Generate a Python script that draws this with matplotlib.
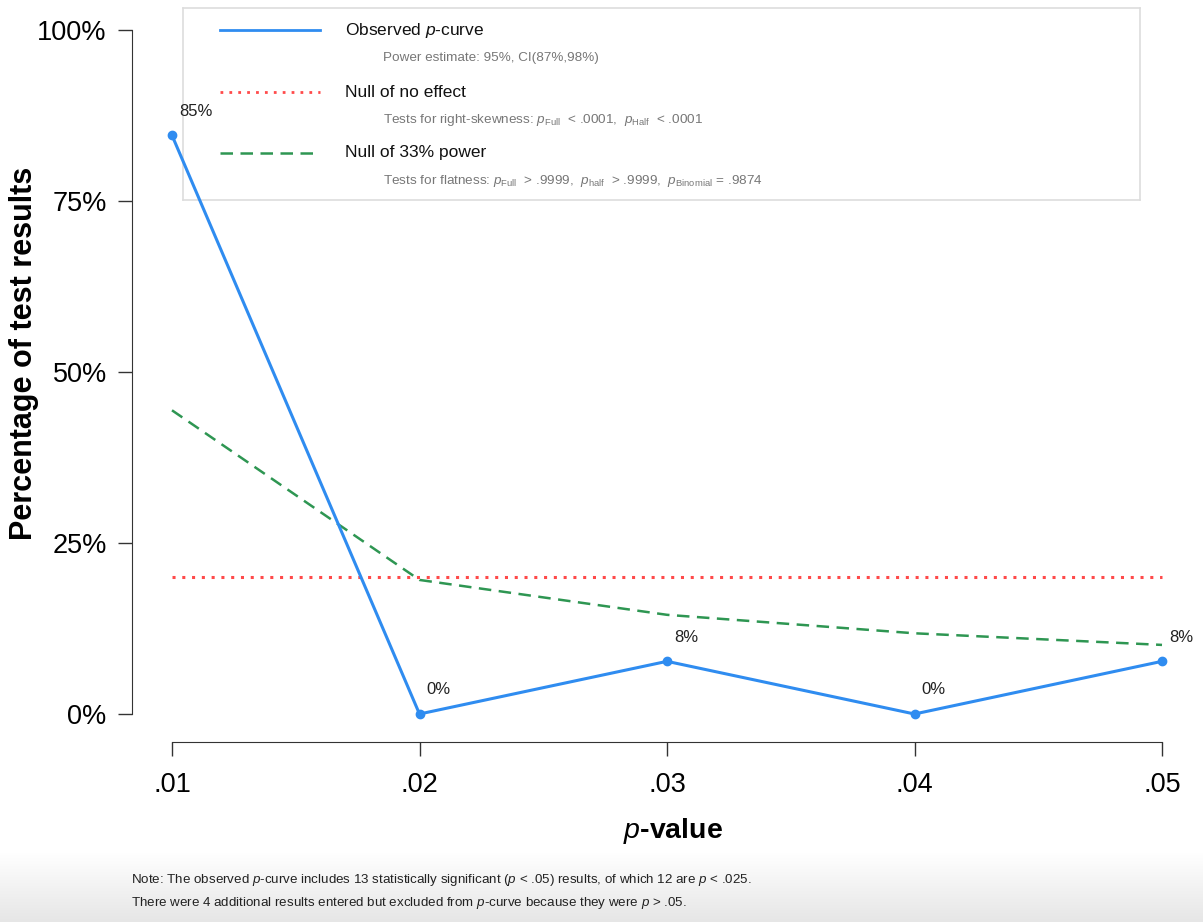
import numpy as np
import matplotlib

matplotlib.use("Agg")
import matplotlib.pyplot as plt
from matplotlib import font_manager
from matplotlib.lines import Line2D

# data
p_values = [0.01, 0.02, 0.03, 0.04, 0.05]
observed = [84.6, 0.0, 7.7, 0.0, 7.7]
observed_labels = ["85%", "0%", "8%", "0%", "8%"]
null_no_effect = [20.0, 20.0, 20.0, 20.0, 20.0]
null_33_power = [44.4, 19.6, 14.5, 11.8, 10.1]
x_tick_labels = [".01", ".02", ".03", ".04", ".05"]
y_ticks = [0, 25, 50, 75, 100]
y_tick_labels = ["0%", "25%", "50%", "75%", "100%"]

BLUE = "#2f8cf0"
RED = "#ff4a4a"
GREEN = "#2e9652"
GREY_TXT = "#777777"

names = {f.name for f in font_manager.fontManager.ttflist}
NARROW = "Liberation Sans Narrow" if "Liberation Sans Narrow" in names else "Liberation Sans"
plt.rcParams["font.family"] = [NARROW, "DejaVu Sans"]
plt.rcParams["mathtext.fontset"] = "custom"
plt.rcParams["mathtext.it"] = NARROW + ":italic"
plt.rcParams["mathtext.rm"] = NARROW
plt.rcParams["mathtext.bf"] = "Liberation Sans:bold"

W, H = 1203, 922
fig = plt.figure(figsize=(W / 100, H / 100), dpi=100)

# grey fade at the bottom of the screenshot
bg = fig.add_axes([0, 0, 1, 0.075], zorder=-10)
grad = np.linspace(0, 1, 100).reshape(-1, 1)
bg.imshow(grad, aspect="auto", cmap=matplotlib.colors.LinearSegmentedColormap.from_list(
    "fade", ["#e6e6e6", "#ffffff"]), extent=[0, 1, 0, 1], origin="lower")
bg.axis("off")

# legend box drawn as its own axes, transparent so the curve shows through
lg = fig.add_axes([183 / W, 1 - 200 / H, 957 / W, 192 / H], zorder=1)
lg.set_xlim(183, 1140)
lg.set_ylim(200, 8)
lg.set_xticks([])
lg.set_yticks([])
lg.patch.set_alpha(0)
for s in lg.spines.values():
    s.set_color("#dddddd")
    s.set_linewidth(1.2)

entries = [
    (BLUE, "-", 2.0, r"Observed $p$-curve", r"Power estimate: 95%, CI(87%,98%)", 30),
    (RED, (0, (1, 2.2)), 2.0, "Null of no effect",
     r"Tests for right-skewness: $p_{\mathrm{Full}}$  < .0001,  $p_{\mathrm{Half}}$  < .0001", 92),
    (GREEN, (0, (5, 3)), 1.8, "Null of 33% power",
     r"Tests for flatness: $p_{\mathrm{Full}}$  > .9999,  $p_{\mathrm{half}}$  > .9999,  $p_{\mathrm{Binomial}}$ = .9874", 153),
]
for color, ls, lw, title, sub, yy in entries:
    lg.add_line(Line2D([220, 320], [yy, yy], color=color, linestyle=ls, linewidth=lw))
    lg.text(345, yy, title, fontsize=12.5, va="center", ha="left", color="#111111")
    lg.text(383, yy + 28, sub, fontsize=9.7, va="center", ha="left", color=GREY_TXT)

ax = fig.add_axes([172 / W, 1 - 714 / H, 990 / W, 684 / H], zorder=2)
ax.patch.set_alpha(0)
ax.set_xlim(0.01, 0.05)
ax.set_ylim(0, 100)

ax.plot(p_values, null_no_effect, color=RED, linestyle=(0, (1, 2.2)), linewidth=2.2, clip_on=False)
ax.plot(p_values, null_33_power, color=GREEN, linestyle=(0, (5, 3)), linewidth=1.8, clip_on=False)
ax.plot(p_values, observed, color=BLUE, linewidth=2.2, marker="o", markersize=6, clip_on=False, zorder=5)

for x, y, lab in zip(p_values, observed, observed_labels):
    ax.annotate(lab, (x, y), xytext=(5, 12), textcoords="offset points",
                fontsize=12, color="#222222", ha="left", va="bottom")

for side in ["top", "right"]:
    ax.spines[side].set_visible(False)
ax.spines["left"].set_position(("outward", 29))
ax.spines["bottom"].set_position(("outward", 20))
ax.spines["left"].set_color("#333333")
ax.spines["bottom"].set_color("#333333")

ax.set_xticks(p_values)
ax.set_xticklabels(x_tick_labels)
ax.set_yticks(y_ticks)
ax.set_yticklabels(y_tick_labels)
ax.tick_params(axis="both", labelsize=19.5, length=10, width=1, color="#333333")
ax.tick_params(axis="y", pad=8)
ax.tick_params(axis="x", pad=12)

fig.text(673 / W, 1 - 831 / H, r"$\mathbf{\mathit{p}}$-value", fontsize=20.5, fontweight="bold",
         family=["Liberation Sans"], ha="center", va="center")
fig.text(24 / W, 1 - 353 / H, "Percentage of test results", fontsize=22, fontweight="bold",
         family=["Liberation Sans"], ha="center", va="center", rotation=90)

fig.text(131 / W, 1 - 880 / H,
         r"Note: The observed $p$-curve includes 13 statistically significant ($p$ < .05) results, of which 12 are $p$ < .025.",
         fontsize=9.6, va="center", ha="left", color="#222222")
fig.text(131 / W, 1 - 903 / H,
         r"There were 4 additional results entered but excluded from $p$-curve because they were $p$ > .05.",
         fontsize=9.6, va="center", ha="left", color="#222222")

fig.savefig("out.png", dpi=100)
